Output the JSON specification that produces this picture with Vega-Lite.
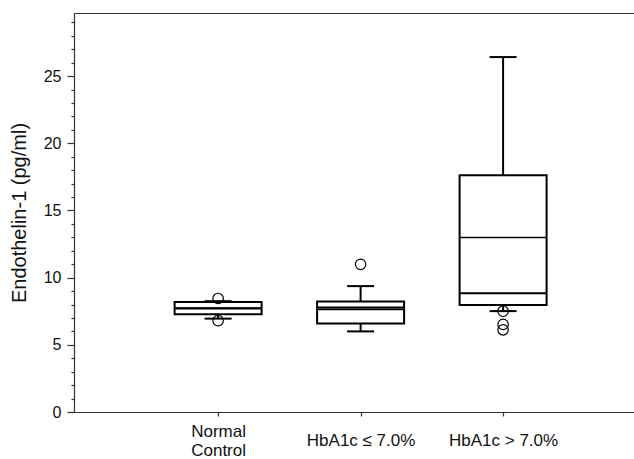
{
  "$schema": "https://vega.github.io/schema/vega-lite/v6.json",
  "width": 560,
  "height": 399,
  "autosize": {"type": "none"},
  "padding": {"left": 74, "top": 13, "right": 0, "bottom": 47},
  "background": "white",
  "config": {
    "view": {"stroke": null},
    "axis": {"domainColor": "#333333", "tickColor": "#333333", "labelColor": "#111111", "labelFont": "Liberation Sans", "titleFont": "Liberation Sans", "titleColor": "#111111", "grid": false, "domainWidth": 1.2, "tickWidth": 1.2}
  },
  "datasets": {
    "stats": [
      {"group": "Normal Control", "lower": 6.95, "q1": 7.27, "median": 7.71, "mean": 7.74, "q3": 8.18, "upper": 8.25},
      {"group": "HbA1c ≤ 7.0%", "lower": 6.0, "q1": 6.59, "median": 7.64, "mean": 7.79, "q3": 8.22, "upper": 9.37},
      {"group": "HbA1c > 7.0%", "lower": 7.51, "q1": 7.96, "median": 8.83, "mean": 12.98, "q3": 17.62, "upper": 26.42}
    ],
    "outliers": [
      {"group": "Normal Control", "value": 8.45},
      {"group": "Normal Control", "value": 6.8},
      {"group": "HbA1c ≤ 7.0%", "value": 10.99},
      {"group": "HbA1c > 7.0%", "value": 7.5},
      {"group": "HbA1c > 7.0%", "value": 6.52},
      {"group": "HbA1c > 7.0%", "value": 6.12}
    ]
  },
  "resolve": {"axis": {"x": "independent", "y": "independent"}},
  "layer": [
    {
      "data": {"name": "stats"},
      "mark": {"type": "rule", "color": "black", "strokeWidth": 2, "opacity": 1},
      "encoding": {
        "x": {"field": "group", "type": "nominal", "sort": null,
          "scale": {"type": "point", "padding": 0.965, "align": 0.524, "domain": ["Normal Control", "HbA1c ≤ 7.0%", "HbA1c > 7.0%"]},
          "axis": {"orient": "bottom", "title": null, "labelAngle": 0, "tickSize": 4, "labelFontSize": 17, "labelPadding": 24, "labelLineHeight": 19,
            "labelBaseline": {"condition": {"test": "datum.value == 'Normal Control'", "value": "bottom"}, "value": "middle"},
            "labelExpr": "datum.value == 'Normal Control' ? ['Normal', 'Control'] : datum.label"}},
        "y": {"field": "lower", "type": "quantitative",
          "scale": {"domain": [0, 29.7], "nice": false, "zero": false},
          "axis": {"orient": "left", "title": "Endothelin-1 (pg/ml)", "titleFontSize": 20, "titleFontWeight": "normal", "titlePadding": 14,
            "values": [0, 5, 10, 15, 20, 25], "tickSize": 7, "labelFontSize": 16, "labelPadding": 6}},
        "y2": {"field": "q1"}
      }
    },
    {
      "data": {"name": "stats"},
      "mark": {"type": "rule", "color": "black", "strokeWidth": 2, "opacity": 1},
      "encoding": {
        "x": {"field": "group", "type": "nominal", "sort": null,
          "scale": {"type": "point", "padding": 0.965, "align": 0.524, "domain": ["Normal Control", "HbA1c ≤ 7.0%", "HbA1c > 7.0%"]},
          "axis": {"orient": "top", "title": null, "labels": false, "ticks": false, "domain": true}},
        "y": {"field": "q3", "type": "quantitative", "scale": {"domain": [0, 29.7], "nice": false, "zero": false},
          "axis": {"orient": "left", "title": null, "labels": false, "tickSize": 3, "domain": false,
            "values": [1,2,3,4,6,7,8,9,11,12,13,14,16,17,18,19,21,22,23,24,26,27,28,29]}},
        "y2": {"field": "upper"}
      }
    },
    {
      "data": {"name": "stats"},
      "mark": {"type": "bar", "fill": "white", "stroke": "black", "strokeWidth": 2, "size": 87, "opacity": 1},
      "encoding": {
        "x": {"field": "group", "type": "nominal", "sort": null, "axis": null,
          "scale": {"type": "point", "padding": 0.965, "align": 0.524, "domain": ["Normal Control", "HbA1c ≤ 7.0%", "HbA1c > 7.0%"]}},
        "y": {"field": "q1", "type": "quantitative", "scale": {"domain": [0, 29.7], "nice": false, "zero": false}, "axis": null},
        "y2": {"field": "q3"}
      }
    },
    {
      "data": {"name": "stats"},
      "mark": {"type": "tick", "color": "black", "size": 87, "thickness": 2, "opacity": 1},
      "encoding": {
        "x": {"field": "group", "type": "nominal", "sort": null, "axis": null,
          "scale": {"type": "point", "padding": 0.965, "align": 0.524, "domain": ["Normal Control", "HbA1c ≤ 7.0%", "HbA1c > 7.0%"]}},
        "y": {"field": "median", "type": "quantitative", "scale": {"domain": [0, 29.7], "nice": false, "zero": false}, "axis": null}
      }
    },
    {
      "data": {"name": "stats"},
      "mark": {"type": "tick", "color": "black", "size": 87, "thickness": 1.5, "opacity": 1},
      "encoding": {
        "x": {"field": "group", "type": "nominal", "sort": null, "axis": null,
          "scale": {"type": "point", "padding": 0.965, "align": 0.524, "domain": ["Normal Control", "HbA1c ≤ 7.0%", "HbA1c > 7.0%"]}},
        "y": {"field": "mean", "type": "quantitative", "scale": {"domain": [0, 29.7], "nice": false, "zero": false}, "axis": null}
      }
    },
    {
      "data": {"name": "stats"},
      "mark": {"type": "tick", "color": "black", "size": 27, "thickness": 2, "opacity": 1},
      "encoding": {
        "x": {"field": "group", "type": "nominal", "sort": null, "axis": null,
          "scale": {"type": "point", "padding": 0.965, "align": 0.524, "domain": ["Normal Control", "HbA1c ≤ 7.0%", "HbA1c > 7.0%"]}},
        "y": {"field": "lower", "type": "quantitative", "scale": {"domain": [0, 29.7], "nice": false, "zero": false}, "axis": null}
      }
    },
    {
      "data": {"name": "stats"},
      "mark": {"type": "tick", "color": "black", "size": 27, "thickness": 2, "opacity": 1},
      "encoding": {
        "x": {"field": "group", "type": "nominal", "sort": null, "axis": null,
          "scale": {"type": "point", "padding": 0.965, "align": 0.524, "domain": ["Normal Control", "HbA1c ≤ 7.0%", "HbA1c > 7.0%"]}},
        "y": {"field": "upper", "type": "quantitative", "scale": {"domain": [0, 29.7], "nice": false, "zero": false}, "axis": null}
      }
    },
    {
      "data": {"name": "outliers"},
      "mark": {"type": "point", "shape": "circle", "filled": false, "color": "black", "strokeWidth": 1.2, "size": 110, "opacity": 1},
      "encoding": {
        "x": {"field": "group", "type": "nominal", "sort": null, "axis": null,
          "scale": {"type": "point", "padding": 0.965, "align": 0.524, "domain": ["Normal Control", "HbA1c ≤ 7.0%", "HbA1c > 7.0%"]}},
        "y": {"field": "value", "type": "quantitative", "scale": {"domain": [0, 29.7], "nice": false, "zero": false}, "axis": null}
      }
    }
  ]
}
